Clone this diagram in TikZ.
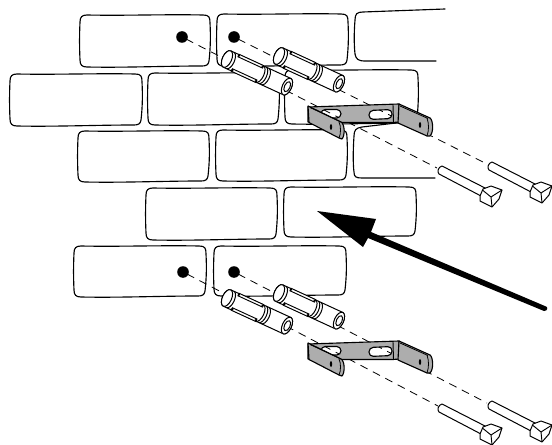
\documentclass[tikz,border=0pt]{standalone}
\definecolor{plate}{gray}{0.68}
\tikzset{x=0.75pt,y=-0.75pt,
 brickline/.style={line width=0.85pt,line join=round,line cap=round},
 dashline/.style={line width=0.6pt,dash pattern=on 6pt off 4.5pt},
 partline/.style={line width=0.75pt,line join=round,fill=white},
 platefill/.style={line width=0.85pt,line join=round,fill=plate,even odd rule}}
\newcommand{\brk}[4]{% x1 y1 x2 y2
 \draw[brickline] (#1+7,#2) .. controls (#1+45,#2+0.8) and (#3-45,#2-0.8) .. (#3-7,#2)
  .. controls (#3-1,#2) and (#3,#2+2) .. (#3,#2+8)
  .. controls (#3+0.6,#2+20) and (#3+0.6,#4-20) .. (#3-1,#4-6)
  .. controls (#3-1.5,#4-2) and (#3-4,#4-1) .. (#3-8,#4-1)
  .. controls (#3-45,#4-1) and (#1+45,#4+0.8) .. (#1+7,#4)
  .. controls (#1+2,#4) and (#1,#4-2) .. (#1,#4-7)
  .. controls (#1-0.6,#4-20) and (#1-0.6,#2+20) .. (#1,#2+7)
  .. controls (#1,#2+2) and (#1+2,#2) .. (#1+7,#2) -- cycle;}
\newcommand{\anchorbolt}[2]{% x y of back end
 \begin{scope}[shift={(#1,#2)},rotate=-24.7,x=0.75pt,y=0.75pt]
  \draw[partline] (0,9) -- (66,9) arc[start angle=90,end angle=-90,x radius=4.6,y radius=9] -- (0,-9)
    arc[start angle=270,end angle=90,x radius=4.6,y radius=9] -- cycle;
  \draw[partline] (66,0) ellipse[x radius=4.6,y radius=9];
  \draw[partline] (66.3,0) ellipse[x radius=2.8,y radius=5.4];
  \draw[partline] (0,0) ellipse[x radius=4.6,y radius=9];
  \foreach \u in {3.5,36,39,42}{
   \draw[line width=0.75pt] (\u,9) arc[start angle=90,end angle=-90,x radius=4.2,y radius=9];}
  \draw[line width=0.7pt,fill=white] (9,9.3) -- (36,9.3) -- (36,6.6) -- (9,6.6) -- cycle;
  \draw[line width=0.7pt,fill=white] (9,-9.3) -- (36,-9.3) -- (36,-6.6) -- (9,-6.6) -- cycle;
  \fill (9.5,8) circle[radius=1.3] (35.5,8) circle[radius=1.3] (9.5,-8) circle[radius=1.3] (35.5,-8) circle[radius=1.3];
 \end{scope}}
\newcommand{\bracketback}[2]{%
 \begin{scope}[shift={(#1,#2)}]
  \draw[platefill] (308,107) -- (399,104) -- (399,122) -- (393,122.5) -- (342,122.5) -- (308,122) -- cycle
    {[rounded corners=3.2pt] (369,110.5) -- (392,109.5) -- (392,118.5) -- (369,119.5) -- cycle}
    {[rounded corners=3.2pt] (321,109.5) -- (341,109.5) -- (341,118) -- (321,118) -- cycle};
  \draw[line width=0.7pt] (393,105) -- (393.5,122.5);
 \end{scope}}
\newcommand{\bracketfront}[2]{%
 \begin{scope}[shift={(#1,#2)}]
  \draw[platefill] (308,106) -- (341,122) .. controls (345,124) and (345,136) .. (342,139) -- (339,138) -- (309,122.5) -- cycle;
  \draw[line width=0.6pt] (339,122) .. controls (341,126) and (341,134) .. (339,138);
  \draw[line width=0.6pt] (310,107.5) -- (340,121.5);
  \fill (331,127) ellipse[x radius=1.2,y radius=3];
  \draw[platefill] (399,104) -- (430,118) .. controls (433,120) and (434,132) .. (430,136) -- (427,136) -- (398,123) -- cycle;
  \draw[line width=0.6pt] (427,118) .. controls (429,124) and (429,130) .. (427,136);
  \draw[line width=0.6pt] (400,106) -- (428,118.5);
  \fill (420,125) ellipse[x radius=1.2,y radius=3];
 \end{scope}}
\newcommand{\hexbolt}[2]{%
 \begin{scope}[shift={(#1,#2)}]
  \draw[partline] (492,162) -- (536,184.5) -- (531,192) -- (489,170) .. controls (487,168) and (488,163) .. (492,162) -- cycle;
  \draw[partline] (530,192) -- (533,185) -- (541,182) -- (552,186) -- (549,195) -- (542,203) -- (530,197) -- cycle;
  \draw[line width=0.7pt] (533,186.5) -- (541,193) -- (542,203) (541,193) -- (552,186);
 \end{scope}}
\begin{document}
\begin{tikzpicture}
\useasboundingbox (0,0) rectangle (552,445);
% bricks
\brk{80}{15}{210}{67}
\brk{217}{14}{348}{66}
\draw[brickline] (445,9) -- (363,12) .. controls (357,12) and (355,14) .. (355,20) .. controls (354,32) and (354,45) .. (355,54) .. controls (356,59) and (358,61) .. (365,61) -- (436,61);
\brk{10}{74}{142}{126}
\brk{148}{73}{279}{125}
\brk{285}{70}{418}{124}
\brk{78}{131}{209}{182}
\brk{216}{130}{347}{181}
\draw[brickline] (396,123) -- (362,127) .. controls (356,128) and (354,130) .. (354,136) .. controls (353,150) and (353,165) .. (354,172) .. controls (354,177) and (356,178) .. (362,178) -- (435,178);
\brk{146}{188}{277}{240}
\brk{284}{187}{416}{237}
\brk{74}{246}{206}{297}
\brk{214}{246}{346}{296}
% holes
\fill (182,37) circle[radius=5.8] (234,37) circle[radius=5.8] (183,272) circle[radius=5.8] (234,272) circle[radius=5.8];
% dashed
\draw[dashline] (186,39) -- (437,168);
\draw[dashline] (238,39) -- (487,164);
\draw[dashline] (187,274) -- (438,406);
\draw[dashline] (238,274) -- (487,403);
% fixings
\anchorbolt{227}{59}
\anchorbolt{279}{56}
\anchorbolt{227}{298}
\anchorbolt{279}{293}
\bracketback{0}{0}
\bracketfront{0}{0}
\bracketback{0}{237}
\bracketfront{0}{237}
\hexbolt{0}{0}
\hexbolt{-50}{4}
\hexbolt{0}{239}
\hexbolt{-50}{242}
% arrow
\fill (546,306.5) .. controls (548,307) and (548,311) .. (544,311) -- (368,238) -- (363,247) -- (317,211) -- (376,219) -- (371,232) -- cycle;
\end{tikzpicture}
\end{document}
